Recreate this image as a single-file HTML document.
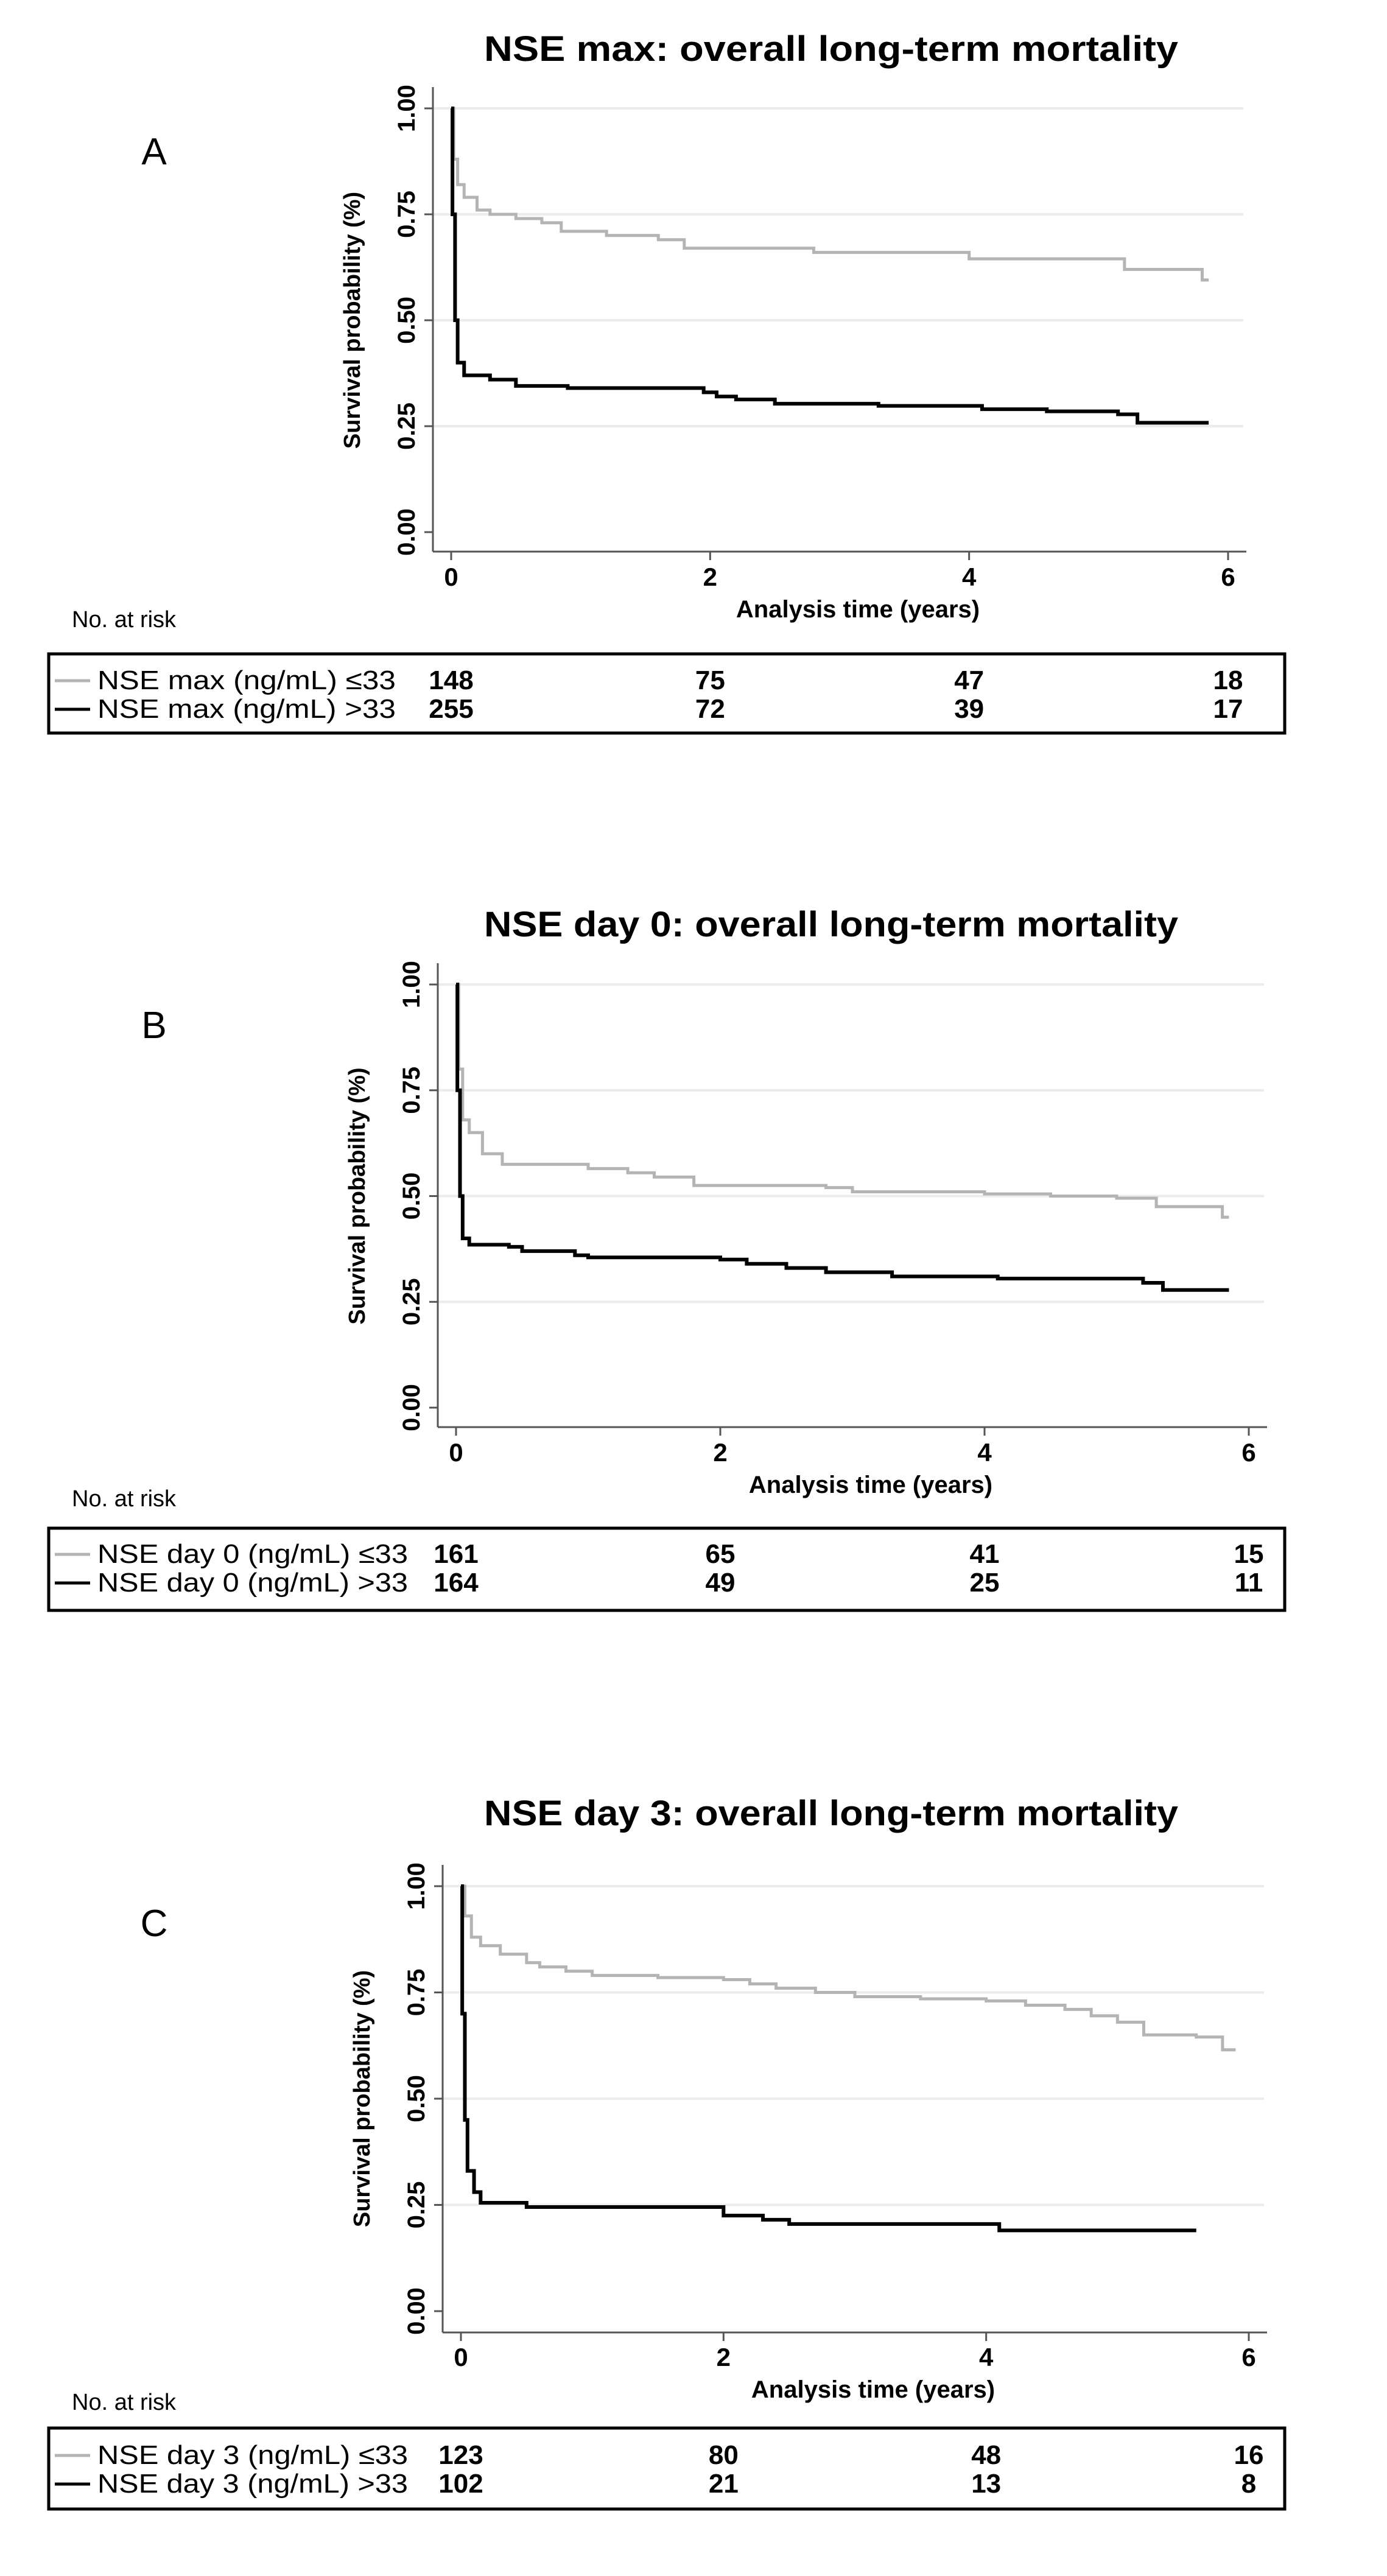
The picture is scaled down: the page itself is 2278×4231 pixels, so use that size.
<!DOCTYPE html>
<html><head><meta charset="utf-8">
<style>
html,body{margin:0;padding:0;background:#fff;}
svg{display:block;}
text{font-family:"Liberation Sans",sans-serif;}
</style></head>
<body>
<svg id="fig" width="2278" height="4231" viewBox="0 0 2278 4231" xmlns="http://www.w3.org/2000/svg"></svg>
<script>
// ---- data ----
const titles = ["NSE max: overall long-term mortality","NSE day 0: overall long-term mortality","NSE day 3: overall long-term mortality"];
const panelLetters = ["A","B","C"];
const xTicks = [0,2,4,6];
const yTicks = [0,0.25,0.5,0.75,1.0];
const yTickLabels = ["0.00","0.25","0.50","0.75","1.00"];
const riskTimes = [0,2,4,6];
const groupLabelsA = ["NSE max (ng/mL) \u226433","NSE max (ng/mL) >33"];
const groupLabelsB = ["NSE day 0 (ng/mL) \u226433","NSE day 0 (ng/mL) >33"];
const groupLabelsC = ["NSE day 3 (ng/mL) \u226433","NSE day 3 (ng/mL) >33"];
const riskA_low = [148,75,47,18];
const riskA_high = [255,72,39,17];
const riskB_low = [161,65,41,15];
const riskB_high = [164,49,25,11];
const riskC_low = [123,80,48,16];
const riskC_high = [102,21,13,8];
// step curves: times and survival
const aLowT = [0,0.02,0.05,0.1,0.2,0.3,0.5,0.7,0.85,1.2,1.6,1.8,2.8,4.0,5.2,5.8,5.85];
const aLowS = [1,0.88,0.82,0.79,0.76,0.75,0.74,0.73,0.71,0.70,0.69,0.67,0.66,0.645,0.62,0.595,0.595];
const aHighT = [0,0.01,0.03,0.05,0.1,0.3,0.5,0.9,1.95,2.05,2.2,2.5,3.3,4.1,4.6,5.15,5.3,5.85];
const aHighS = [1,0.75,0.5,0.40,0.37,0.36,0.345,0.34,0.33,0.32,0.313,0.303,0.298,0.29,0.285,0.278,0.258,0.258];
const bLowT = [0,0.02,0.05,0.1,0.2,0.35,1.0,1.3,1.5,1.8,2.8,3.0,4.0,4.5,5.0,5.3,5.8,5.85];
const bLowS = [1,0.8,0.68,0.65,0.6,0.575,0.565,0.555,0.545,0.525,0.52,0.51,0.505,0.50,0.495,0.475,0.45,0.45];
const bHighT = [0,0.01,0.03,0.05,0.1,0.4,0.5,0.9,1.0,2.0,2.2,2.5,2.8,3.3,4.1,5.2,5.35,5.85];
const bHighS = [1,0.75,0.5,0.40,0.385,0.38,0.37,0.36,0.355,0.35,0.34,0.33,0.32,0.31,0.305,0.295,0.278,0.278];
const cLowT = [0,0.03,0.08,0.15,0.3,0.5,0.6,0.8,1.0,1.5,2.0,2.2,2.4,2.7,3.0,3.5,4.0,4.3,4.6,4.8,5.0,5.2,5.6,5.8,5.9];
const cLowS = [1,0.93,0.88,0.86,0.84,0.82,0.81,0.80,0.79,0.785,0.78,0.77,0.76,0.75,0.74,0.735,0.73,0.72,0.71,0.695,0.68,0.65,0.645,0.615,0.615];
const cHighT = [0,0.01,0.03,0.05,0.1,0.15,0.5,2.0,2.3,2.5,4.1,5.6];
const cHighS = [1,0.7,0.45,0.33,0.28,0.255,0.245,0.225,0.215,0.205,0.19,0.19];

const NS="http://www.w3.org/2000/svg";
const svg=document.getElementById('fig');
function el(tag,attrs,parent,txt){const e=document.createElementNS(NS,tag);for(const k in attrs)e.setAttribute(k,attrs[k]);if(txt!==undefined)e.textContent=txt;(parent||svg).appendChild(e);return e;}

const panels=[
 {title:titles[0],letter:panelLetters[0],titleY:100,letterY:270,x0:741,x6:2017,y1:178,y0:874,axisX:711,axisY:906,tickY:962,xTitleY:1014,nrY:1030,
  box:[80,1074,2030,130],rowY:[1132,1179],labels:groupLabelsA,lw:490,risk:[riskA_low,riskA_high],curves:[[aLowT,aLowS],[aHighT,aHighS]]},
 {title:titles[1],letter:panelLetters[1],titleY:1538,letterY:1705,x0:749,x6:2051,y1:1617,y0:2312,axisX:719,axisY:2344,tickY:2400,xTitleY:2452,nrY:2474,
  box:[80,2510,2030,135],rowY:[2567,2614],labels:groupLabelsB,lw:510,risk:[riskB_low,riskB_high],curves:[[bLowT,bLowS],[bHighT,bHighS]]},
 {title:titles[2],letter:panelLetters[2],titleY:2998,letterY:3180,x0:757,x6:2051,y1:3098,y0:3796,axisX:727,axisY:3831,tickY:3886,xTitleY:3938,nrY:3958,
  box:[80,3988,2030,133],rowY:[4047,4094],labels:groupLabelsC,lw:510,risk:[riskC_low,riskC_high],curves:[[cLowT,cLowS],[cHighT,cHighS]]}
];
const colors=["#b4b4b4","#000000"];
panels.forEach((p,i)=>{
  const g=el('g',{});
  
  
  const xs=t=>p.x0+(p.x6-p.x0)*t/6;
  const ys=s=>p.y0-(p.y0-p.y1)*s;
  const lt=el('text',{x:253,y:p.letterY,'font-size':62,'text-anchor':'middle'},g,p.letter);
  
  const tt=el('text',{x:1365,y:p.titleY,'font-size':58,'font-weight':'bold','text-anchor':'middle',textLength:1140,lengthAdjust:'spacingAndGlyphs'},g,p.title);
  
  yTicks.forEach((v,k)=>{
    if(v>0){const gl=el('line',{x1:p.axisX,x2:p.x6+25,y1:ys(v),y2:ys(v),stroke:'#ececec','stroke-width':4},g);
      }
    el('line',{x1:p.axisX-14,x2:p.axisX,y1:ys(v),y2:ys(v),stroke:'#555','stroke-width':3},g);
    const tl=el('text',{x:0,y:0,'font-size':40,'font-weight':'bold','text-anchor':'middle',transform:`translate(${p.axisX-30},${ys(v)}) rotate(-90)`},g,yTickLabels[k]);
    
  });
  const yt=el('text',{x:0,y:0,'font-size':38,'font-weight':'bold','text-anchor':'middle',transform:`translate(${p.axisX-120},${(p.y0+p.y1)/2}) rotate(-90)`},g,'Survival probability (%)');
  
  el('line',{x1:p.axisX,x2:p.axisX,y1:p.y1-35,y2:p.axisY,stroke:'#555','stroke-width':3},g);
  el('line',{x1:p.axisX,x2:p.x6+30,y1:p.axisY,y2:p.axisY,stroke:'#555','stroke-width':3},g);
  xTicks.forEach(t=>{
    el('line',{x1:xs(t),x2:xs(t),y1:p.axisY,y2:p.axisY+14,stroke:'#555','stroke-width':3},g);
    const xl=el('text',{x:xs(t),y:p.tickY,'font-size':42,'font-weight':'bold','text-anchor':'middle'},g,String(t));
    
  });
  const xt=el('text',{x:(p.x0+p.x6)/2+30,y:p.xTitleY,'font-size':40,'font-weight':'bold','text-anchor':'middle'},g,'Analysis time (years)');
  
  p.curves.forEach((c,k)=>{
    const T=c[0],S=c[1];let d=`M${xs(T[0])},${ys(S[0])}`;
    for(let j=1;j<T.length;j++){d+=` H${xs(T[j])} V${ys(S[j])}`;}
    const pa=el('path',{d:d,fill:'none',stroke:colors[k],'stroke-width':k?6:5},g);
    
    
  });
  const nr=el('text',{x:118,y:p.nrY,'font-size':38},g,'No. at risk');
  
  const bx=el('rect',{x:p.box[0],y:p.box[1],width:p.box[2],height:p.box[3],fill:'none',stroke:'#000','stroke-width':5},g);
  
  [0,1].forEach(r=>{
    el('line',{x1:90,x2:148,y1:p.rowY[r]-14,y2:p.rowY[r]-14,stroke:colors[r],'stroke-width':5},g);
    const gl=el('text',{x:160,y:p.rowY[r],'font-size':44,textLength:p.lw,lengthAdjust:'spacingAndGlyphs'},g,p.labels[r]);
    
    p.risk[r].forEach((n,j)=>{
      const nt=el('text',{x:xs(riskTimes[j]),y:p.rowY[r],'font-size':44,'font-weight':'bold','text-anchor':'middle'},g,String(n));
      
    });
  });
});
</script>
</body></html>
